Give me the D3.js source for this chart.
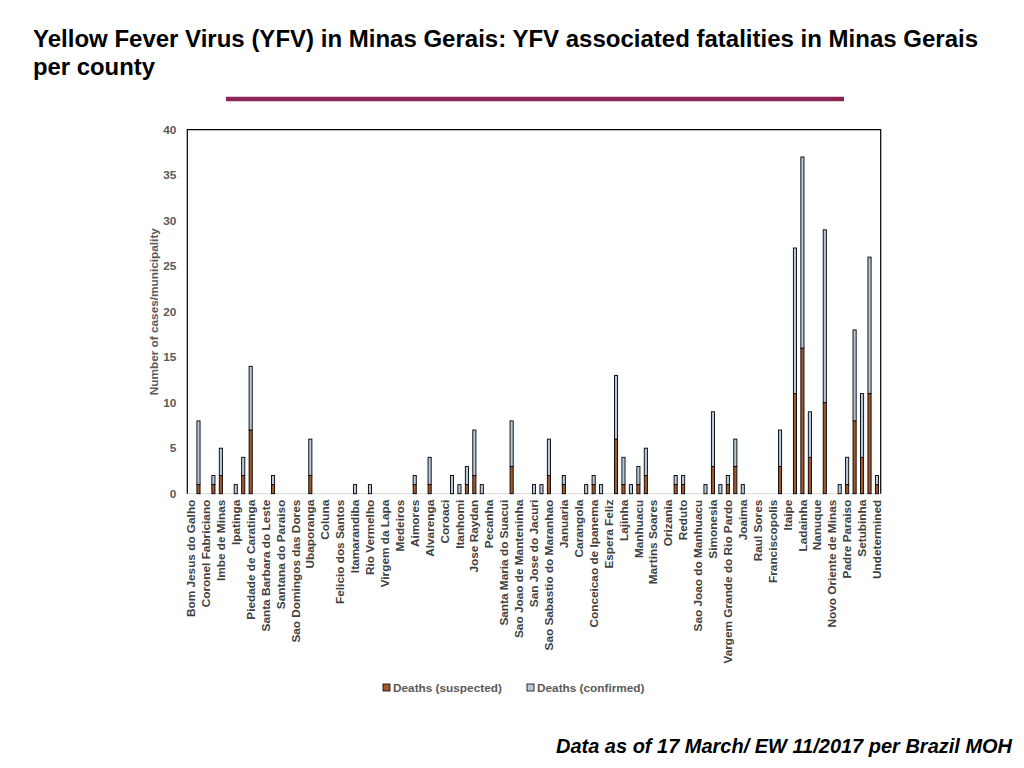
<!DOCTYPE html>
<html>
<head>
<meta charset="utf-8">
<script src="https://cdn.jsdelivr.net/npm/d3@7"></script>
<style>
  body { margin: 0; background: #fff; }
  text { font-family: "Liberation Sans", Arial, sans-serif; }
</style>
</head>
<body>
<svg id="chart" width="1024" height="768"></svg>
<script>
// tick labels, shown on every other slot (even slots 0..92)
const countyLabels = [
  'Bom Jesus do Galho', 'Coronel  Fabriciano', 'Imbe de Minas', 'Ipatinga',
  'Piedade de Caratinga', 'Santa Barbara do Leste', 'Santana do Paraiso',
  'Sao Domingos das Dores', 'Ubaporanga', 'Coluna', 'Felicio dos Santos',
  'Itamarandiba', 'Rio Vermelho', 'Virgem da Lapa', 'Medeiros', 'Aimores',
  'Alvarenga', 'Coroaci', 'Itanhomi', 'Jose Raydan', 'Pecanha',
  'Santa Maria do Suacui', 'Sao Joao de Manteninha', 'San Jose do Jacuri',
  'Sao Sabastio do Maranhao', 'Januaria', 'Carangola', 'Conceicao de Ipanema',
  'Espera Feliz', 'Lajinha', 'Manhuacu', 'Martins Soares', 'Orizania', 'Reduto',
  'Sao Joao do Manhuacu', 'Simonesia', 'Vargem Grande do Rio Pardo', 'Joaima',
  'Raul Sores', 'Franciscopolis', 'Itaipe', 'Ladainha', 'Nanuque',
  'Novo Oriente de Minas', 'Padre Paraiso', 'Setubinha', 'Undetermined'
];

// 93 category slots, left to right
const deathsSuspected = [
  0, 1, 0, 1, 2, 0, 0, 2, 7, 0,
  0, 1, 0, 0, 0, 0, 2, 0, 0, 0,
  0, 0, 0, 0, 0, 0, 0, 0, 0, 0,
  1, 0, 1, 0, 0, 0, 0, 1, 2, 0,
  0, 0, 0, 3, 0, 0, 0, 0, 2, 0,
  1, 0, 0, 0, 1, 0, 0, 6, 1, 0,
  1, 2, 0, 0, 0, 1, 1, 0, 0, 0,
  3, 0, 1, 3, 0, 0, 0, 0, 0, 3,
  0, 11, 16, 4, 0, 10, 0, 0, 1, 8,
  4, 11, 1
];
const deathsConfirmed = [
  0, 7, 0, 1, 3, 0, 1, 2, 7, 0,
  0, 1, 0, 0, 0, 0, 4, 0, 0, 0,
  0, 0, 1, 0, 1, 0, 0, 0, 0, 0,
  1, 0, 3, 0, 0, 2, 1, 2, 5, 1,
  0, 0, 0, 5, 0, 0, 1, 1, 4, 0,
  1, 0, 0, 1, 1, 1, 0, 7, 3, 1,
  2, 3, 0, 0, 0, 1, 1, 0, 0, 1,
  6, 1, 1, 3, 1, 0, 0, 0, 0, 4,
  0, 16, 21, 5, 0, 19, 0, 1, 3, 10,
  7, 15, 1
];

const yTicks = [0, 5, 10, 15, 20, 25, 30, 35, 40];
const seriesNames = ['Deaths (suspected)', 'Deaths (confirmed)'];
const seriesColors = ['#a5582b', '#b7c8dd'];

const svg = d3.select('#chart');

const plot = { left: 187.3, right: 880.7, top: 129.7, bottom: 493.7 };
const labelFont = 11.8;

// title
svg.append('text')
  .attr('x', 33).attr('y', 47)
  .attr('font-size', 23).attr('font-weight', 'bold').attr('fill', '#000')
  .attr('textLength', 945).attr('lengthAdjust', 'spacingAndGlyphs')
  .text('Yellow Fever Virus (YFV) in Minas Gerais: YFV associated fatalities in Minas Gerais');
svg.append('text')
  .attr('x', 33).attr('y', 75)
  .attr('font-size', 23).attr('font-weight', 'bold').attr('fill', '#000')
  .attr('textLength', 122).attr('lengthAdjust', 'spacingAndGlyphs')
  .text('per county');

svg.append('line')
  .attr('x1', 226).attr('x2', 844).attr('y1', 99).attr('y2', 99)
  .attr('stroke', '#8a2556').attr('stroke-width', 4.5);

const slots = d3.range(deathsSuspected.length);

const x = d3.scaleBand()
  .domain(slots)
  .range([plot.left, plot.right])
  .paddingInner(0.58)
  .paddingOuter(0.29);

const y = d3.scaleLinear()
  .domain([0, 40])
  .range([plot.bottom, plot.top]);

const rows = slots.map(i => ({ slot: i, suspected: deathsSuspected[i], confirmed: deathsConfirmed[i] }));
const stacked = d3.stack().keys(['suspected', 'confirmed'])(rows);

// baseline
svg.append('line')
  .attr('x1', plot.left).attr('x2', plot.right)
  .attr('y1', plot.bottom).attr('y2', plot.bottom)
  .attr('stroke', '#d9d9d9').attr('stroke-width', 1);

const layers = svg.selectAll('g.layer')
  .data(stacked)
  .enter()
  .append('g')
  .attr('class', 'layer')
  .attr('fill', (d, i) => seriesColors[i]);

layers.selectAll('rect')
  .data(d => d.filter(p => p[1] > p[0]))
  .enter()
  .append('rect')
  .attr('x', d => x(d.data.slot))
  .attr('width', x.bandwidth())
  .attr('y', d => y(d[1]))
  .attr('height', d => y(d[0]) - y(d[1]))
  .attr('stroke', '#000')
  .attr('stroke-width', 0.9);

// plot frame (left, top, right)
svg.append('path')
  .attr('d', 'M' + plot.left + ',' + plot.bottom + 'V' + plot.top + 'H' + plot.right + 'V' + plot.bottom)
  .attr('fill', 'none')
  .attr('stroke', '#000')
  .attr('stroke-width', 1.2);

// y axis labels
const yAxis = d3.axisLeft(y).tickValues(yTicks).tickSize(0).tickPadding(11);
const yg = svg.append('g')
  .attr('transform', 'translate(' + plot.left + ',0)')
  .call(yAxis);
yg.select('.domain').remove();
yg.selectAll('text')
  .attr('font-size', labelFont).attr('font-weight', 'bold').attr('fill', '#595959')
  .style('font-family', '"Liberation Sans", Arial, sans-serif');

// x axis labels, every other slot
const xAxis = d3.axisBottom(x)
  .tickValues(slots.filter(i => i % 2 === 0))
  .tickFormat(i => countyLabels[i / 2])
  .tickSize(0);
const xg = svg.append('g')
  .attr('transform', 'translate(0,' + plot.bottom + ')')
  .call(xAxis);
xg.select('.domain').remove();
xg.selectAll('text')
  .attr('transform', 'rotate(-90)')
  .attr('text-anchor', 'end')
  .attr('x', -6)
  .attr('y', 0)
  .attr('dy', '0.35em')
  .attr('font-size', labelFont).attr('font-weight', 'bold').attr('fill', '#404040')
  .style('font-family', '"Liberation Sans", Arial, sans-serif');

// y axis title
svg.append('text')
  .attr('transform', 'translate(158,' + ((plot.top + plot.bottom) / 2) + ') rotate(-90)')
  .attr('text-anchor', 'middle')
  .attr('font-size', labelFont).attr('font-weight', 'bold').attr('fill', '#595959')
  .text('Number of cases/municipality');

// legend
const legendX = [383, 527];
const legend = svg.selectAll('g.legend')
  .data(seriesNames)
  .enter()
  .append('g')
  .attr('class', 'legend')
  .attr('transform', (d, i) => 'translate(' + legendX[i] + ',684)');
legend.append('rect')
  .attr('width', 7).attr('height', 7)
  .attr('fill', (d, i) => seriesColors[i])
  .attr('stroke', '#000').attr('stroke-width', 0.8);
legend.append('text')
  .attr('x', 10).attr('y', 7.8)
  .attr('font-size', labelFont).attr('font-weight', 'bold').attr('fill', '#595959')
  .text(d => d);

// footer
svg.append('text')
  .attr('x', 1012).attr('y', 753)
  .attr('text-anchor', 'end')
  .attr('font-size', 19.5).attr('font-weight', 'bold').attr('font-style', 'italic')
  .attr('fill', '#000')
  .attr('textLength', 456).attr('lengthAdjust', 'spacingAndGlyphs')
  .text('Data as of 17 March/ EW 11/2017 per Brazil MOH');
</script>
</body>
</html>
